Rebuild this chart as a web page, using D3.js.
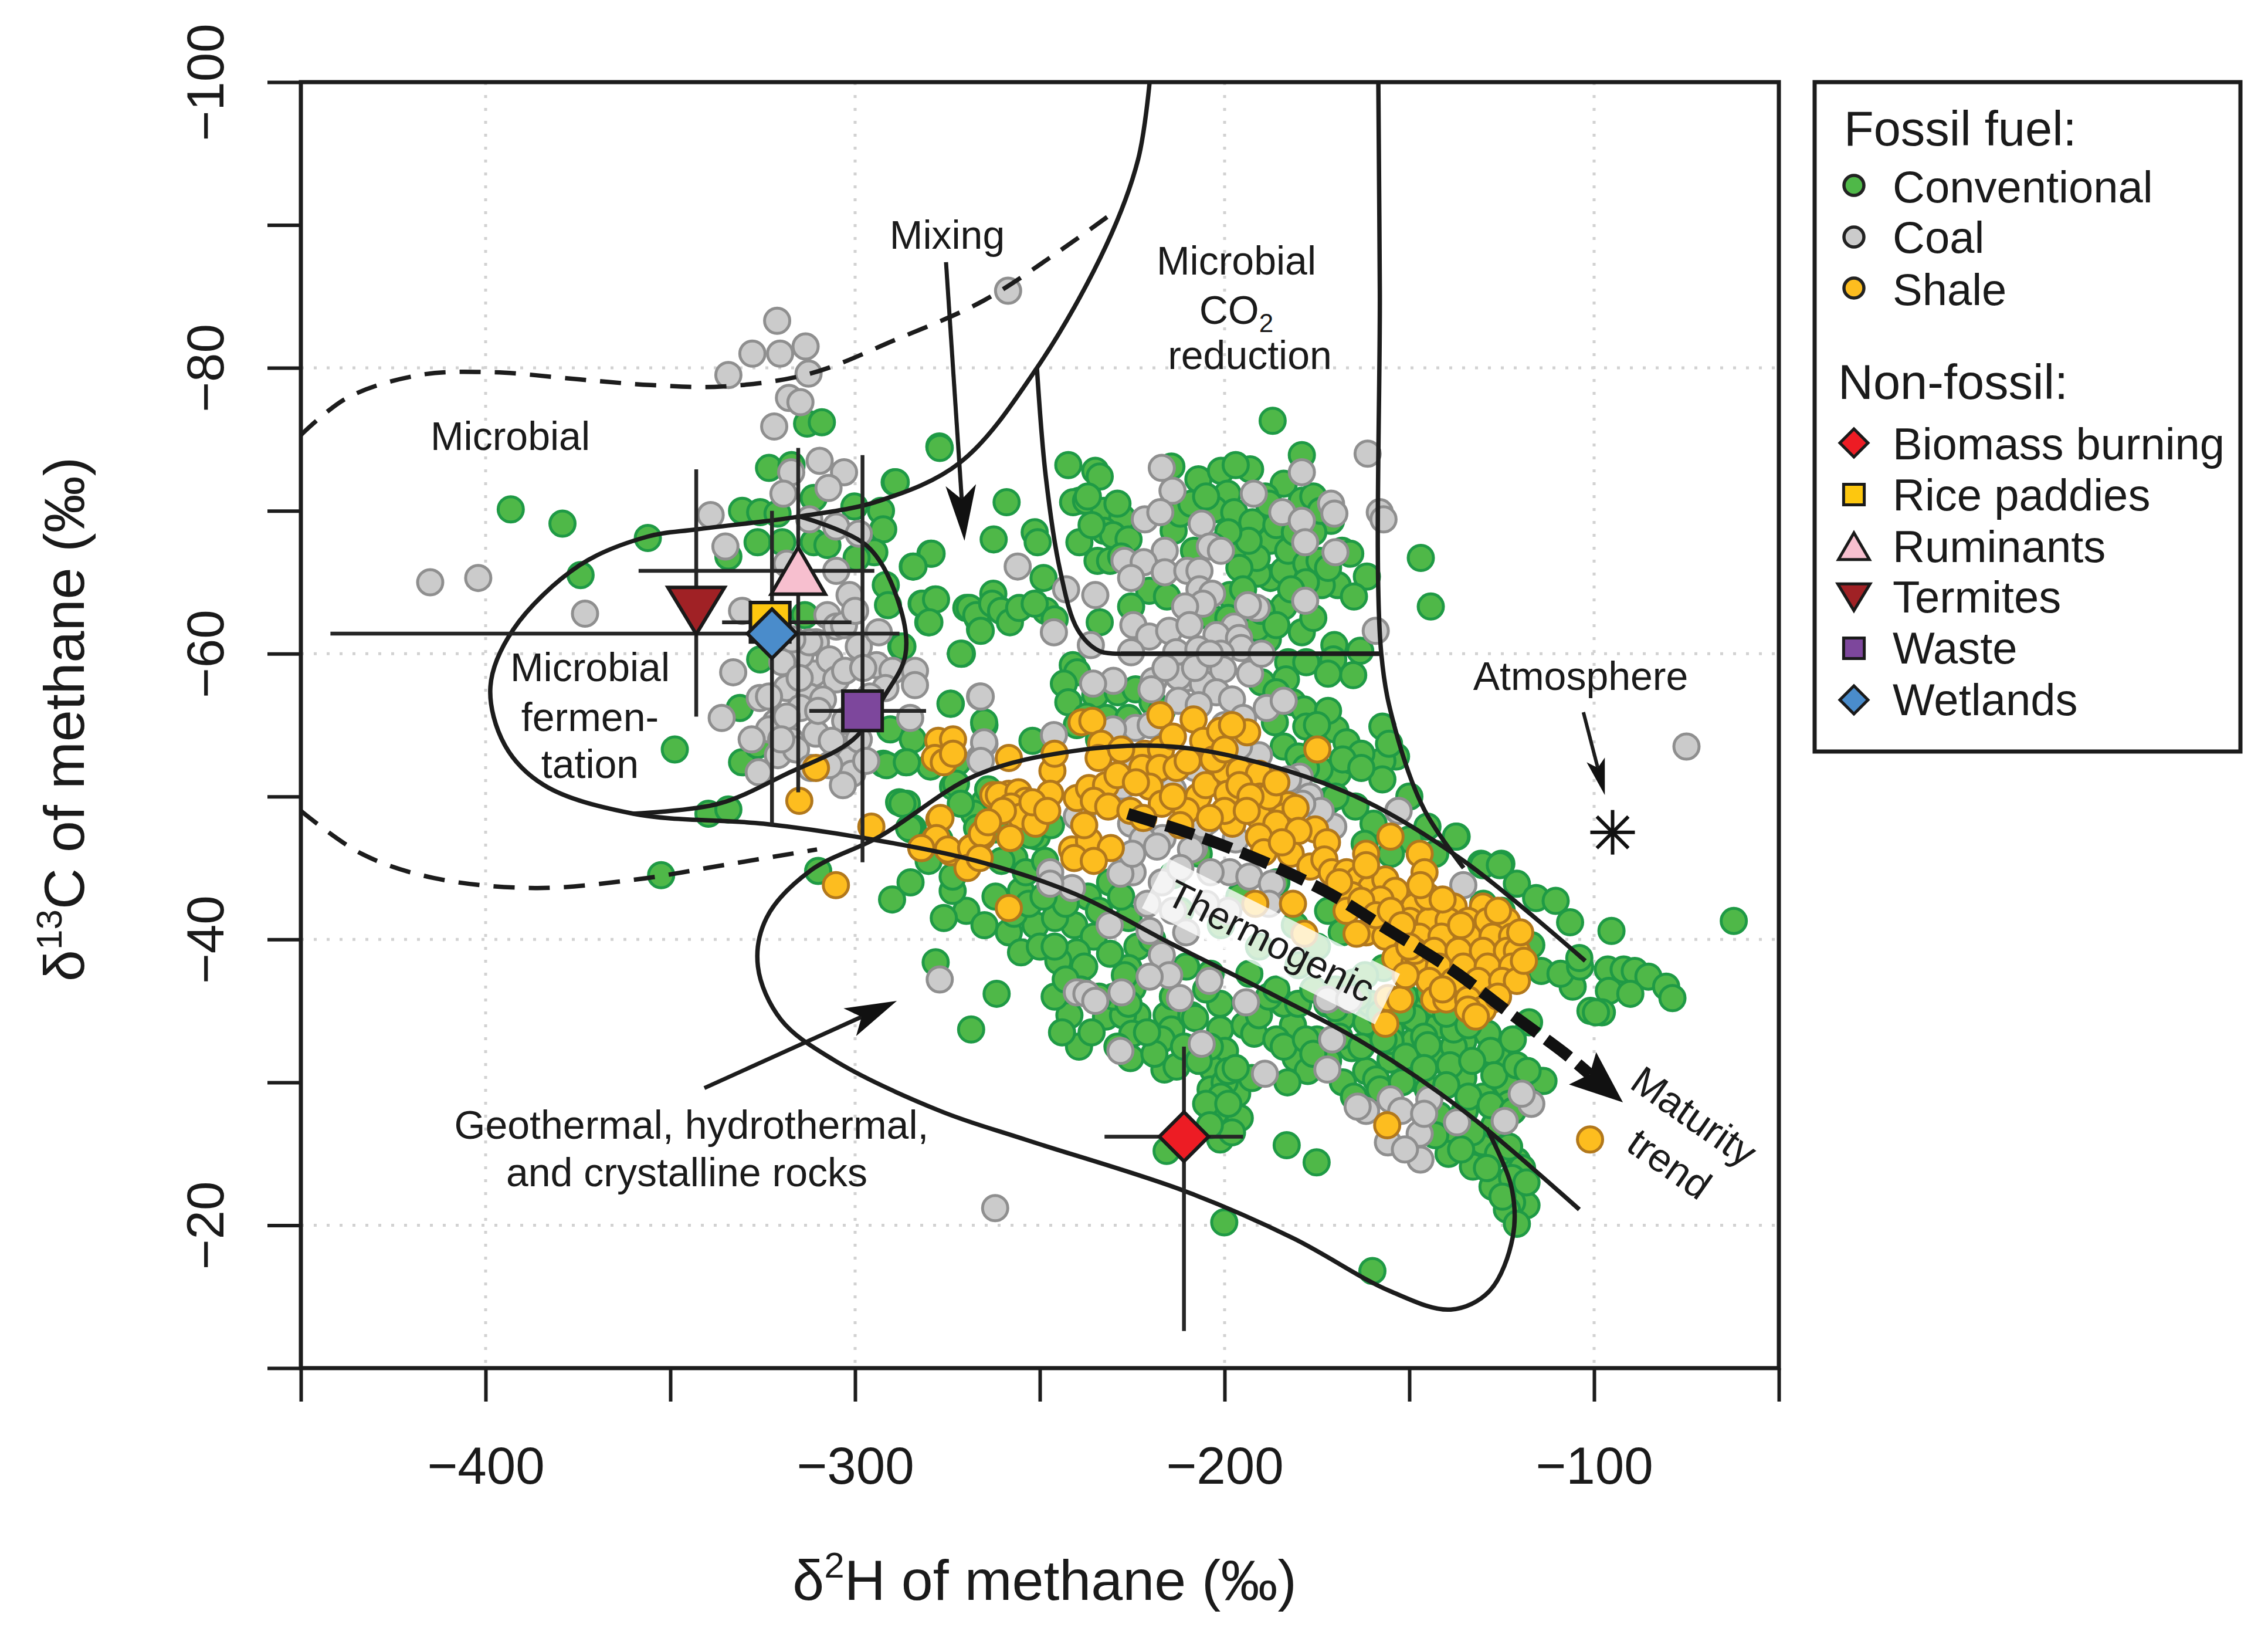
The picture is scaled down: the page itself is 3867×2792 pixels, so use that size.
<!DOCTYPE html>
<html><head><meta charset="utf-8">
<script src="https://cdn.jsdelivr.net/npm/d3@7"></script>
<style>html,body{margin:0;background:#fff}text{font-family:"Liberation Sans",Arial,sans-serif;fill:#1a1a1a}</style>
</head><body><svg id="c" width="3867" height="2792"></svg>
<script>
const xTicks=[-450,-400,-350,-300,-250,-200,-150,-100,-50];
const yTicks=[-100,-90,-80,-70,-60,-50,-40,-30,-20,-10];
const xGrid=[-400,-300,-200,-100];
const yGrid=[-80,-60,-40,-20];
const conventional=[[-393.2,-70.1],[-379.2,-69.1],[-356.1,-68.1],[-374.3,-65.5],[-323.3,-73],[-317.2,-73.2],[-313,-76.1],[-309,-76.2],[-277.2,-74.5],[-289.3,-72],[-311.2,-70.9],[-330.6,-70],[-325.7,-69.9],[-321,-69.8],[-300.2,-70.3],[-293,-70],[-292.4,-68.7],[-326.4,-67.8],[-319.7,-67.8],[-311.2,-67.8],[-307.5,-67.6],[-334.3,-66.8],[-294.8,-67.1],[-299.6,-66.7],[-284.4,-66.1],[-279.6,-67],[-291.7,-64.8],[-291.1,-63.4],[-282,-63.5],[-278.4,-63.8],[-280.2,-62.2],[-269.9,-63.2],[-262.6,-64.2],[-266.9,-62.5],[-266.2,-61.7],[-271.1,-60],[-287.5,-60.5],[-313.6,-62.7],[-274.1,-56.5],[-325.7,-59.6],[-331.2,-56.2],[-348.8,-53.3],[-330.6,-52.4],[-326.4,-53.6],[-292.4,-52.3],[-286.3,-52.4],[-290.5,-54.7],[-284.4,-54],[-339.7,-48.8],[-334.3,-49.1],[-288.1,-49.6],[-286,-49.5],[-352.5,-44.5],[-310,-44.8],[-272.3,-52.4],[-279.6,-52.1],[-265,-55],[-284.4,-47.8],[-277.2,-47],[-273.5,-50.7],[-265,-49.6],[-266.2,-47.8],
[-277.1,-74.4],[-289,-72],[-187,-76.3],[-242.3,-73.2],[-235,-72.8],[-233.8,-72.4],[-179.1,-73.9],[-214.4,-73.1],[-207.1,-72.2],[-201,-72.8],[-193.1,-72.9],[-184,-71.9],[-259,-70.6],[-239.3,-70.7],[-241,-70.6],[-237.5,-70.7],[-232.6,-70],[-227.7,-69.5],[-232.6,-68.6],[-230.2,-68.3],[-239.3,-67.8],[-234.4,-66.5],[-262.5,-68],[-251.4,-68.5],[-250.6,-67.8],[-279.3,-67],[-284.2,-66.1],[-199.2,-71.2],[-202.8,-70.1],[-197.4,-69.9],[-192.5,-69.2],[-213.8,-68.6],[-208.3,-67.2],[-179.1,-70.7],[-187.6,-67.9],[-187.6,-65.3],[-191,-65.6],[-196.1,-67],[-184,-65.8],[-182.8,-67.2],[-177.9,-66.3],[-174.3,-66.5],[-168.2,-67.2],[-169.4,-64.8],[-173.7,-64.8],[-161.5,-65.4],[-171.2,-69.3],[-146.9,-66.7],[-144.2,-63.3],[-191.3,-66.7],[-193.5,-67.9],[-220.4,-64.4],[-215.6,-64],[-225.3,-63.3],[-198.6,-64.1],[-203.4,-62.5],[-184,-63.3],[-179.1,-61.5],[-188.3,-61],[-191.3,-61.8],[-170.3,-60.6],[-170.6,-59.6],[-163.3,-60.2],[-165.2,-58.5],[-182.8,-59.4],[-177.9,-59.4],[-183.4,-58.2],[-233.8,-62.2],[-249,-65.3],[-248.4,-63],[-246,-62.4],
[-269,-63.2],[-267.2,-62.7],[-266,-61.6],[-262.9,-63.5],[-260.5,-63],[-258.1,-62.2],[-255.6,-63.2],[-251.4,-63.5],[-281.8,-63.5],[-278.1,-63.8],[-279.9,-62.2],[-271.4,-60],[-287.2,-60.5],[-274.2,-56.5],[-265.1,-55.2],[-252,-53.9],[-241.1,-59.2],[-239.9,-58.7],[-243.5,-57.9],[-242.3,-56.6],[-235,-57.1],[-228.9,-57.3],[-224.1,-57.5],[-219.5,-56.6],[-237.4,-55.6],[-232,-55.5],[-181.6,-56.6],[-178.5,-56.1],[-177.9,-54.9],[-184,-53.5],[-170,-54.7],[-167,-53.8],[-169.4,-51.6],[-174.3,-51.9],[-186.4,-55.2],[-172,-56],[-175,-53.5],[-180,-52.8],[-165.5,-52.5],[-157.3,-54.9],[-153.6,-52.8],[-157.3,-52.5],[-157.3,-51.2],[-137.2,-47.2],[-130.6,-45.3],[-125.1,-45.3],[-145.1,-47.9],[-159.7,-48.1],[-164.6,-49.3],[-171.9,-49.7],[-162.1,-46.7],[-150,-47],[-155,-46],[-143,-46],[-291.5,-52.2],[-286,-52.4],[-272.7,-50.9],[-287.2,-49.5],[-284.8,-47.7],[-267.8,-48.8],[-256.9,-45.7],[-250.8,-47.2],[-271.4,-49.5],[-264,-50.5],
[-290,-42.8],[-278.2,-38.4],[-261.7,-36.2],[-268.6,-33.7],[-269.9,-42],[-265,-41],[-273.6,-43.4],[-258.4,-40.5],[-251.2,-41],[-255.1,-39.1],[-255.1,-43.4],[-240.7,-41],[-245.9,-41.5],[-235.4,-40.2],[-240,-39.1],[-238,-38.1],[-223.6,-39.5],[-226,-38],[-224.9,-36.6],[-242,-34.7],[-232.1,-34.6],[-223.6,-34.7],[-227.5,-34.7],[-239.4,-32.5],[-225,-33.4],[-225.5,-31.7],[-215.7,-34.7],[-214.4,-33.7],[-209,-34.7],[-201.2,-35.5],[-201.2,-33.7],[-199.9,-32.2],[-216.3,-30.9],[-213,-31.1],[-203.2,-30.9],[-194.6,-34],[-192,-33.4],[-190.7,-34.7],[-181.5,-34],[-180.8,-31.7],[-177.5,-30.8],[-184,-35.5],[-196.6,-29.2],[-202.5,-27.9],[-195.9,-27.5],[-203.8,-29.5],[-200,-30],[-192.6,-30.3],[-215.7,-25.2],[-201.2,-26],[-183.2,-25.6],[-175.1,-24.4],[-200.1,-20.2],[-160,-16.8],
[-168.3,-34.5],[-161.7,-34.2],[-155.1,-33.7],[-148.6,-32.9],[-142,-34],[-135.4,-32.9],[-128.8,-33.4],[-126.2,-31.8],[-161.7,-30.8],[-155.1,-31.6],[-148.6,-30.3],[-142,-31.6],[-135.4,-30.3],[-130.1,-29],[-123.6,-29.8],[-114.3,-30.1],[-165.6,-32.4],[-159,-30.2],[-149,-34.5],[-135.4,-34.2],[-143.3,-35.5],[-148.6,-35.5],[-155.1,-32.9],[-172,-31.5],[-168,-30],[-138,-32.5],[-145,-29.5],[-142,-27.7],[-138,-26.1],[-130.1,-25.8],[-139.4,-25],[-132.8,-24.1],[-120.9,-24.5],[-119.5,-24],[-127.5,-22.7],[-118.3,-21.4],[-122.2,-21.6],[-123.6,-21.1],[-120.9,-20.1],[-122.2,-23.3],[-124.8,-22],[-118.3,-23],[-117.6,-34.2],[-123,-28.5],[-127,-27],[-135,-28],[-133,-26.5],
[-137.4,-47.2],[-130.1,-45.2],[-125.5,-45.2],[-120.9,-43.9],[-115.7,-42.9],[-110.4,-42.7],[-106.5,-41.2],[-117,-39.6],[-114.3,-37.8],[-105.8,-36.7],[-109.1,-37.6],[-103.8,-38.1],[-96.3,-37.9],[-95.3,-40.6],[-96,-36.4],[-92,-37.9],[-97.9,-34.9],[-101,-35],[-113.7,-30.1],[-62.2,-41.3],[-89,-37.8],[-85.3,-37.4],[-80.5,-36.7],[-78.8,-35.9],[-90.2,-36.2],[-99.5,-34.9],[-104,-38.7],[-130,-42.5],[-125,-42],
[-285.4,-47.8],[-280.1,-45.5],[-273.6,-44.4],[-267,-47.8],[-260.4,-45.5],[-253.8,-44.7],[-248.6,-45.5],[-252.5,-47.3],[-210.4,-38.1],[-203.8,-37.6],[-193.3,-37.6],[-188,-36],[-180.1,-35.5],[-172.2,-35.5],[-219.6,-40],[-212,-42],[-201,-41],[-190.7,-39.5],[-180,-38.2],[-170,-36.5],[-165,-37],[-175,-39.5],[-181,-41],[-168.3,-40.5],[-160.5,-35.5],[-151.2,-36],[-144.6,-36.3],[-148.6,-34.5],[-138,-33.7],[-262,-47.7],[-247,-44],[-231,-44],[-214,-44.5],[-196,-43],[-186,-44],[-172,-42],[-157,-38],[-162,-37.5],[-237,-43],[-242,-43.5],[-247,-48],[-226,-41.5],[-207,-46],
[-176,-36.5],[-170,-35.2],[-164,-36],[-158,-34.8],[-152,-35],[-146,-33.2],[-140,-34.8],[-134,-34],[-128,-32.2],[-122,-33],[-175,-33],[-169,-33.2],[-163,-32.5],[-157,-33],[-151,-31.8],[-145,-32.6],[-139,-31.2],[-133,-31.5],[-127,-30.5],[-121,-31.2],[-118,-30.8],[-165,-29],[-158,-29.5],[-152,-30],[-146,-31],[-140,-29.8],[-134,-29],[-128,-28.4],[-122,-28],[-126,-25],[-129,-24],[-123,-25.5],[-136,-25.3],[-143,-26.3],
[-214,-36],[-217,-33],[-211,-32.5],[-219,-32],[-205,-36.5],[-208,-34.5],[-204,-32.5],[-207,-31.5],[-199,-30.8],[-201,-29],[-197,-31],[-205,-28.5],[-199,-28.5],[-198,-26.5],[-204,-27],[-186,-33],[-184,-32.5],[-178,-33],[-176,-32],[-183,-30],[-186,-36.5],[-230,-36],[-236,-33.5],[-234,-36],[-244,-33.5],[-229,-32.5],[-221,-33.5],[-226,-35.5],[-246,-36],[-250,-39.5],[-245,-38.5],[-239,-36.5],[-243,-42.5],[-234,-42],[-228,-43],[-231,-39],[-227,-37.5],[-285,-44],[-276,-41.5],[-262,-43],[-257,-41.8],[-253,-42.5],[-249,-43],[-246,-39.5],[-243,-37.2],
[-199,-68.5],[-196,-66],[-203,-67.5],[-189,-71],[-186,-69],[-181,-68.5],[-176,-68.5],[-172,-66],[-178,-65],[-182,-64.5],[-190,-63],[-195,-64.5],[-186,-62],[-176,-62.5],[-199,-62.5],[-212,-69.8],[-209,-70.5],[-205,-71],[-197,-73.2],[-188,-70.5],[-176,-71],[-174,-70],[-165,-64],[-166,-67],[-237,-71],[-229,-70.5],[-226,-68],[-236,-69],[-231,-66.5],[-228,-66.8],[-240,-55],[-234,-54],[-226,-55.5],[-217,-56],[-190,-58],[-186,-57.3],[-172,-58.6],[-175,-55],[-163,-53],[-170,-50],[-178,-52],[-168,-52.6],[-163,-52],[-150,-50],[-155.5,-53.7]];
const coal=[[-321.1,-83.3],[-327.8,-81],[-320.3,-81],[-313.4,-81.5],[-334.3,-79.5],[-312.6,-79.6],[-317.9,-77.9],[-314.8,-77.6],[-321.9,-75.9],[-309.6,-73.5],[-303,-72.7],[-317.3,-72.7],[-307.2,-71.6],[-319.4,-71.2],[-339.1,-69.7],[-335.1,-67.5],[-415,-65],[-402,-65.3],[-373.1,-62.8],[-330.6,-63],[-312.4,-69.4],[-305.1,-68.9],[-299,-68.4],[-305.1,-65.8],[-318.5,-66.3],[-301.5,-64.1],[-307.5,-62.7],[-310.6,-60.8],[-299,-60.5],[-293.6,-61.5],[-333,-58.7],[-336.1,-55.5],[-325.8,-56.9],[-318.5,-57.6],[-311.2,-58.6],[-314.8,-59.9],[-306.9,-59.6],[-305.1,-58.2],[-312.4,-57],[-321.5,-55.2],[-310.6,-54.4],[-317.3,-53.9],[-302.7,-55.3],[-294.2,-59.2],[-289.9,-58.8],[-283.8,-58.8],[-283.8,-57.8],[-291.8,-57.6],[-285.1,-55.5],[-301.5,-52.6],[-300.8,-51.6],[-303.3,-50.8],[-326.1,-51.7],[-320.9,-52.9],[-266.2,-57],[-265,-53.7],[-266.2,-52.7],[-258.6,-85.4],[-323.3,-57],[-319.7,-59.4],[-314.8,-56.2],[-308.7,-56.8],[-302.7,-58.8],[-297.8,-59],[-312.4,-60.8],[-305.1,-61.9],[-316,-53.3],[-306.3,-53.9],[-323.3,-54.7],[-318.5,-55.6],
[-217,-73],[-161.3,-74],[-179.1,-72.7],[-214.1,-71.4],[-192.1,-71.2],[-171.2,-70.5],[-170.3,-69.8],[-158,-69.9],[-157,-69.4],[-221.6,-69.4],[-217.4,-69.9],[-184.4,-69.9],[-179.1,-69.3],[-206.2,-69.1],[-204,-67.5],[-201,-67.2],[-178.2,-67.8],[-170,-67.1],[-216.2,-67.2],[-227.1,-66.5],[-221.9,-66.4],[-216.2,-65.7],[-225.3,-65.3],[-210.1,-65.8],[-206.8,-65.8],[-206.8,-64.5],[-203.4,-64.2],[-205.9,-63.5],[-210.7,-63.3],[-178.2,-63.7],[-191.3,-63.2],[-193.7,-63.4],[-256,-66.1],[-242.9,-64.5],[-235,-64.1],[-246.2,-61.5],[-224.7,-62],[-220.4,-61.2],[-215,-61.6],[-209.5,-62],[-197.4,-61.9],[-202.2,-61.3],[-196.1,-61.1],[-159.1,-61.6],[-236.2,-60.6],[-225.3,-60.1],[-213.1,-60.1],[-207.1,-60.3],[-195.5,-60.4],[-201,-60],[-230.1,-58.1],[-235.6,-57.9],[-219.2,-58.1],[-210.1,-58.3],[-212.5,-58.4],[-205.9,-57.9],[-200.4,-58.9],[-193.1,-58.6],[-266,-57],[-219.8,-57.5],[-202.2,-57.3],[-198,-56.8],[-212.5,-56.7],[-188.6,-56.2],[-184,-56.7],[-207,-56.4],[-265.1,-53.8],[-266,-52.5],[-246.2,-54.3],[-224.1,-54.8],[-230.2,-54.7],[-190.7,-52.9],[-196.1,-53.5],[-153,-49],[-179.7,-51.4],[-176.5,-48.8],[-170.6,-47.9],[-226.5,-52.1],[-238.6,-48.6],[-227.7,-50.7],[-221.6,-47.4],[-216.8,-47.1],[-208.3,-46.4],[-204.6,-48.3],[-225.3,-48.1],[-177.9,-48.1],
[-247.2,-44.7],[-241.3,-43.6],[-247.2,-43.9],[-240,-48.6],[-224.9,-44.7],[-228.2,-44.6],[-222.2,-47],[-218.3,-46.5],[-209.1,-46.3],[-198.6,-44.7],[-203.8,-44.7],[-193.3,-44.4],[-187.2,-43.9],[-220.9,-42.5],[-210.4,-40.5],[-231.1,-41],[-220.3,-40.6],[-217,-38.9],[-215,-37.5],[-220.3,-37.4],[-204.1,-37.1],[-212.1,-35.9],[-194.2,-35.6],[-240,-36.3],[-237.4,-36.2],[-235,-35.7],[-227.9,-36.3],[-277.1,-37.2],[-228.2,-32.2],[-206.2,-32.7],[-170.9,-33],[-172.2,-30.9],[-189.1,-30.6],[-262.1,-21.2],[-161.7,-28],[-155.1,-28.8],[-152.2,-28],[-144.6,-28.8],[-137.1,-27.2],[-124.2,-27.3],[-117,-28.5],[-119.6,-29.2],[-147.2,-26.4],[-147,-24.6],[-155.8,-25.8],[-151.2,-25.3],[-135.4,-43.8],[-152.9,-49],[-172.2,-35.8],[-166.3,-35.8],[-182.8,-51.2],[-177,-50],[-75,-53.5],[-164,-28.3],[-146,-27.8],
[-199,-42],[-205,-42.5],[-214,-42],[-217,-44],[-225,-46],[-212,-45],[-206,-48],[-197,-47],[-188,-42.5],[-174,-49],[-179,-49.5],[-315,-58.3],[-310,-56],[-320,-54],[-317,-61],[-303,-62],[-300,-63],[-296,-57],[-299,-54],[-297,-52.5],[-307,-52.2],[-312,-52],[-328,-54],[-204,-53],[-208,-52],[-214,-50.5],[-220,-55],[-200,-55],[-195,-55.5],[-216,-59],[-208,-59],[-204,-60],[-190,-60]];
const shale=[[-315.1,-49.7],[-310.6,-52],[-295.6,-47.9],[-277.5,-53.9],[-273.5,-54],[-278.4,-52.7],[-276,-52.4],[-273.5,-53],[-305.2,-43.8],[-277.2,-48.4],[-282,-46.4],[-278.4,-47],[-274.1,-46.1],[-268.7,-46.4],[-265.6,-47.2],[-262.6,-50.1],
[-258.4,-52.7],[-246.6,-51.8],[-247.2,-50.2],[-246,-53],[-258.4,-50.2],[-261.1,-50.1],[-255.8,-50.3],[-253.8,-49.7],[-257.8,-49.3],[-255.1,-48.6],[-251.2,-48.1],[-260,-49],[-240,-49.9],[-236.7,-50.6],[-232.1,-50.8],[-235.4,-49.7],[-231.5,-49.3],[-225.5,-49],
[-238.7,-55.2],[-235.8,-55.3],[-233.4,-53.7],[-234.1,-52.7],[-221.6,-53],[-222.3,-52],[-217.4,-55.7],[-217.2,-53.3],[-217.6,-52],[-208.4,-55.4],[-205.8,-53.9],[-201.2,-54.6],[-193.9,-54.5],[-198,-55],[-213,-52],[-220.3,-50.7],[-217,-49.5],[-209.1,-49.4],[-207.1,-50],[-210.4,-49],[-205.1,-50.8],[-199.9,-51.8],[-195.9,-51.8],[-190.7,-51.6],[-199.2,-50.2],[-197.9,-48.1],[-190.4,-50],[-190.7,-48.6],[-184.7,-49.4],[-182.8,-49.4],[-188,-50],[-184,-48.6],[-186,-48.1],[-180.8,-49.2],[-190.7,-47.2],
[-276.9,-48.5],[-278,-47.1],[-282.1,-46.4],[-274.9,-46.3],[-268.6,-46.4],[-265.7,-47.4],[-269.6,-45],[-266.3,-45.7],[-258,-47.1],[-241.3,-46.3],[-236.7,-46.9],[-230.8,-46.4],[-240.7,-45.7],[-235.4,-45.5],[-258.4,-42.2],
[-191.7,-42.5],[-181.5,-42.5],[-178.4,-40.4],[-155.8,-35.9],[-152.5,-35.8],[-156.5,-34.1],[-174.9,-53.3],[-189.4,-46.1],[-182.1,-46],[-176.8,-45.1],[-175.5,-47.7],[-172.3,-46.8],[-173,-45.6],[-171,-44.7],[-155.1,-47.2],[-147.2,-46],[-145.9,-44.7],[-161.7,-46],
[-167,-44.7],[-163.7,-44.2],[-160.4,-43.6],[-156.5,-44.2],[-161.7,-45.2],[-153.8,-43.4],[-165.6,-43.1],[-157.8,-42.8],[-167,-42],[-161.7,-40.5],[-164.3,-40.4],[-156.5,-40.2],[-153.8,-38.7],[-148.6,-38.4],
[-148.6,-42.3],[-143.3,-42.3],[-138,-42.3],[-130.1,-42.3],[-149.9,-41.3],[-144.6,-41.3],[-139.4,-41.3],[-134.1,-41.3],[-128.8,-41.3],[-123.6,-41.3],[-147.3,-40.2],[-141.3,-40.2],[-134.1,-40.2],[-127.5,-40.2],[-122.2,-40.2],[-148.6,-39.2],[-143.3,-39.2],[-136.7,-39.2],[-130.1,-39.2],[-123.6,-39.2],[-120.9,-39.2],[-142,-38.1],[-135.4,-38.1],[-128.8,-38.1],[-122.2,-38.1],[-144.6,-37.1],[-138,-37.1],[-131.4,-37.1],[-124.9,-37.1],[-120.9,-37.1],[-143.3,-35.8],[-140,-35.8],[-134.1,-35.8],[-127.5,-35.8],[-130.1,-35.1],[-134.1,-35.1],
[-156,-27],[-101.1,-26],
[-228,-53.3],[-229,-51.5],[-224,-51],[-214,-54.2],[-210,-52.5],[-203,-52.6],[-200,-53.3],[-196,-50.8],[-193,-50],[-186,-51],[-180,-47.6],[-184.5,-46.8],[-200,-49],[-194,-49],[-204,-48.5],[-212,-48],[-214,-50],[-222,-48.5],[-238,-48],[-264,-48.2],[-252,-49.6],[-248,-49],[-169,-44],[-163,-42.7],[-159,-41.7],[-155,-42],[-152,-41],[-150,-39.5],[-151,-37.5],[-145,-43],[-147,-43.8],[-141,-42.8],[-136,-41],[-126,-42],[-120,-40.5],[-119,-38.5],[-141,-36.5],[-126,-36],[-132,-34.6]];
const sourceNames=["Biomass burning","Rice paddies","Ruminants","Termites","Waste","Wetlands"];
const sourceX=[-211,-323,-315.4,-343,-298,-322.5];
const sourceY=[-26.2,-62.2,-65.8,-63,-56,-61.4];
const sourceXLow=[-232.5,-336,-358.6,-343,-312.4,-442];
const sourceXHigh=[-195,-301,-294.8,-343,-280.8,-288];
const sourceYLow=[-32.5,-62.2,-74.4,-72.9,-73.9,-70];
const sourceYHigh=[-12.6,-62.2,-50.3,-55.6,-45.4,-48];
const outerCurve=[[-220.3,-100],[-223.4,-94.6],[-232,-88.6],[-250.8,-80],[-271.5,-73.4],[-293.4,-70.7],[-315,-69.6],[-342.8,-68.7],[-356.1,-68.2],[-374.5,-66.2],[-392.5,-61.7],[-398.7,-57.7],[-394.8,-53.6],[-384.2,-50.8],[-360,-48.8],[-324.8,-48.1],[-297.7,-47.1],[-267.2,-45.5],[-240.6,-43.2],[-214.4,-39.7],[-188.2,-36.3],[-162,-32.7],[-135.3,-28],[-104,-21.1]];
const innerCurve=[[-315,-69.6],[-296.6,-67.5],[-288,-63.4],[-286.4,-59.9],[-291.9,-57.1],[-300.5,-54],[-318.5,-51.6],[-336.9,-49.5],[-360,-48.8]];
const thermoCurve=[[-102.4,-38.5],[-135.3,-45.5],[-162,-49.7],[-188.2,-52.2],[-214.4,-53.5],[-240.6,-53.2],[-267.2,-51.5],[-293.4,-47.2],[-312.2,-44.8],[-324,-41.5],[-326.3,-38.1],[-320.1,-34.4],[-306,-31.6],[-277,-28],[-254,-26],[-210.9,-22.4],[-181.5,-19.1],[-155.3,-15.4],[-138.8,-14.1],[-128.3,-15.4],[-122,-19.2],[-122.4,-22.7],[-129.1,-26.8]];
const co2Left=[[-250.8,-80],[-248.4,-72.4],[-244.5,-65.8],[-239.8,-61.7],[-234,-60.2],[-228.1,-60]];
const co2Base=[[-228.1,-60],[-157.6,-60]];
const co2Right=[[-158.4,-100],[-158,-85.5],[-157.6,-60],[-153.7,-54.6],[-146,-49.1],[-135.3,-45]];
const dashUpper=[[-450,-75.3],[-437.5,-77.9],[-417.9,-79.5],[-398.4,-79.7],[-374.9,-79.2],[-355.3,-78.8],[-335.7,-78.7],[-312.2,-79.6],[-288.8,-82],[-265.3,-84.7],[-245.7,-88],[-230,-90.9]];
const dashLower=[[-450,-49],[-433.6,-46],[-414,-44.3],[-386.6,-43.6],[-359.2,-44.2],[-335.7,-45.2],[-310.3,-46.3]];
const atmosphere=[-95,-47.5];
const arrowMixing=[[-275.4,-87.4],[-270.4,-67.9]];
const arrowAtmos=[[-102.9,-55.9],[-97.1,-50.1]];
const arrowGeo=[[-340.8,-29.6],[-288.7,-35.7]];
const arrowTrend=[[-226.2,-48.8],[-209.1,-47.4],[-190,-45.5],[-172.2,-43.3],[-156.5,-40.8],[-138,-37.8],[-123.6,-35],[-107.8,-32],[-92.2,-28.6]];

const x=d3.scaleLinear().domain([-450,-50]).range([513,3033]);
const y=d3.scaleLinear().domain([-100,-10]).range([140,2332]);
const svg=d3.select("#c");
const INK="#1c1c1c";
const fmt=v=>"\u2212"+Math.abs(v);

const grid=svg.append("g").attr("stroke","#d2d2d2").attr("stroke-width",5).attr("stroke-dasharray","5 17");
grid.selectAll("line.v").data(xGrid).join("line").attr("class","v").attr("x1",x).attr("x2",x).attr("y1",y(-100)).attr("y2",y(-10));
grid.selectAll("line.h").data(yGrid).join("line").attr("class","h").attr("x1",x(-450)).attr("x2",x(-50)).attr("y1",y).attr("y2",y);

function pts(data,fill,stroke){
  svg.append("g").selectAll("circle").data(data).join("circle")
    .attr("cx",d=>x(d[0])).attr("cy",d=>y(d[1])).attr("r",21.5)
    .attr("fill",fill).attr("stroke",stroke).attr("stroke-width",5);
}
const C={green:["#4fb848","#1f9a45"],gray:["#cbcbcb","#8f8f8f"],orange:["#fdbd1f","#b2781c"]};
pts(conventional,...C.green);
pts(coal,...C.gray);
pts(shale,...C.orange);

const ln=d3.line().x(d=>x(d[0])).y(d=>y(d[1])).curve(d3.curveCatmullRom.alpha(0.5));
const curves=svg.append("g").attr("fill","none").attr("stroke",INK).attr("stroke-width",7.5);
[outerCurve,innerCurve,thermoCurve,co2Left,co2Right].forEach(c=>curves.append("path").attr("d",ln(c)));
curves.append("path").attr("d",d3.line().x(d=>x(d[0])).y(d=>y(d[1]))(co2Base)).attr("stroke-width",8);
[dashUpper,dashLower].forEach(c=>curves.append("path").attr("d",ln(c)).attr("stroke-dasharray","36 24"));

function head(a,len,w,notch){
  const n=a.length,x0=x(a[n-2][0]),y0=y(a[n-2][1]),x1=x(a[n-1][0]),y1=y(a[n-1][1]);
  const L=Math.hypot(x1-x0,y1-y0),ux=(x1-x0)/L,uy=(y1-y0)/L,px=-uy,py=ux;
  const bx=x1-ux*len,by=y1-uy*len,nx=x1-ux*(len-notch),ny=y1-uy*(len-notch);
  return {pts:[[x1,y1],[bx+px*w/2,by+py*w/2],[nx,ny],[bx-px*w/2,by-py*w/2]],sx:nx,sy:ny};
}
function arrow(a,len,w,notch,sw,dash){
  const h=head(a,len,w,notch);
  const d=a.slice(0,-1).map(p=>[x(p[0]),y(p[1])]);d.push([h.sx,h.sy]);
  svg.append("path").attr("d",d3.line().curve(d3.curveCatmullRom.alpha(0.5))(d)).attr("fill","none").attr("stroke",dash?"#111":INK).attr("stroke-width",sw).attr("stroke-dasharray",dash||null);
  svg.append("polygon").attr("points",h.pts.map(p=>p.join(",")).join(" ")).attr("fill","#111");
}
arrow(arrowMixing,95,52,24,7);
arrow(arrowAtmos,62,32,14,6);
arrow(arrowGeo,88,52,22,7);

const th=svg.append("g").attr("transform","translate(2167,1604) rotate(26.5)");
th.append("rect").attr("x",-222).attr("y",-48).attr("width",444).attr("height",96).attr("fill","#fff").attr("fill-opacity",0.78);
th.append("text").attr("text-anchor","middle").attr("y",23).attr("font-size",66).text("Thermogenic");

arrow(arrowTrend,90,72,16,20,"50 18");

const bars=svg.append("g").attr("stroke","#262626").attr("stroke-width",6.5);
sourceNames.forEach((n,i)=>{
  bars.append("line").attr("x1",x(sourceX[i])).attr("x2",x(sourceX[i])).attr("y1",y(sourceYLow[i])).attr("y2",y(sourceYHigh[i]));
  bars.append("line").attr("x1",x(sourceXLow[i])).attr("x2",x(sourceXHigh[i])).attr("y1",y(sourceY[i])).attr("y2",y(sourceY[i]));
});
const sty={
 "Biomass burning":{f:"#ed1c24",t:"diamond"},"Rice paddies":{f:"#fdc70f",t:"square"},"Ruminants":{f:"#f7bfcf",t:"up"},
 "Termites":{f:"#a02125",t:"down"},"Waste":{f:"#7d479c",t:"square"},"Wetlands":{f:"#4a8ccb",t:"diamond"}};
function shape(g,t,cx,cy,s,fill,sw){
  let p;
  if(t==="diamond") p=[[0,-s],[s,0],[0,s],[-s,0]];
  if(t==="square") p=[[-s*.8,-s*.8],[s*.8,-s*.8],[s*.8,s*.8],[-s*.8,s*.8]];
  if(t==="up") p=[[0,-s*.95],[s*1.1,s*.95],[-s*1.1,s*.95]];
  if(t==="down") p=[[0,s*.95],[s*1.15,-s*.95],[-s*1.15,-s*.95]];
  g.append("polygon").attr("points",p.map(q=>[cx+q[0],cy+q[1]].join(",")).join(" ")).attr("fill",fill).attr("stroke","#1a1a1a").attr("stroke-width",sw).attr("stroke-linejoin","miter");
}
const markers=svg.append("g");
sourceNames.forEach((n,i)=>shape(markers,sty[n].t,x(sourceX[i]),y(sourceY[i]),42,sty[n].f,6));

const star=svg.append("g").attr("stroke","#111").attr("stroke-width",6).attr("transform",`translate(${x(atmosphere[0])},${y(atmosphere[1])})`);
[0,45,90,135].forEach(a=>star.append("line").attr("x1",-38).attr("x2",38).attr("transform",`rotate(${a})`));

function t(s,px,py,fs=68,a="middle"){return svg.append("text").attr("x",px).attr("y",py).attr("font-size",fs).attr("text-anchor",a).text(s);}
t("Mixing",1615,424);
t("Microbial",2108,468);
const co=t("CO",2108,552);co.append("tspan").attr("font-size",44).attr("dy",14).text("2");
t("reduction",2131,629);
t("Atmosphere",2695,1176);
t("Microbial",870,767);
t("Microbial",1006,1161);t("fermen-",1006,1246);t("tation",1006,1326);
t("Geothermal, hydrothermal,",1179,1941);
t("and crystalline rocks",1171,2022);
svg.append("text").attr("transform","translate(2875,1922) rotate(35)").attr("text-anchor","middle").attr("font-size",68).text("Maturity");
svg.append("text").attr("transform","translate(2833,2003) rotate(35)").attr("text-anchor","middle").attr("font-size",68).text("trend");

svg.append("rect").attr("x",513).attr("y",140).attr("width",2520).attr("height",2192).attr("fill","none").attr("stroke",INK).attr("stroke-width",7);
const ax=svg.append("g").attr("transform","translate(0,2332)").call(d3.axisBottom(x).tickValues(xTicks).tickSize(57).tickPadding(95).tickFormat(v=>xGrid.includes(v)?fmt(v):""));
const ay=svg.append("g").attr("transform","translate(513,0)").call(d3.axisLeft(y).tickValues(yTicks).tickSize(57).tickPadding(75).tickFormat(v=>(v%20===0&&v!==-10)?fmt(v):""));
[ax,ay].forEach(g=>{g.select(".domain").remove();g.selectAll("line").attr("stroke",INK).attr("stroke-width",6);g.selectAll("text").attr("font-size",89).attr("font-family",'"Liberation Sans"').attr("fill","#1a1a1a");});
ax.selectAll("text").attr("dy",0).attr("y",197);
ay.selectAll(".tick text").attr("text-anchor","middle").attr("dy",0).attr("x",0).attr("y",0).attr("transform","translate(-132,0) rotate(-90)");
const xt=svg.append("text").attr("x",1781).attr("y",2727).attr("text-anchor","middle").attr("font-size",97);
xt.append("tspan").text("\u03b4");xt.append("tspan").attr("font-size",62).attr("dy",-38).text("2");xt.append("tspan").attr("dy",38).text("H of methane (\u2030)");
const yt=svg.append("text").attr("transform","translate(143,1226) rotate(-90)").attr("text-anchor","middle").attr("font-size",97);
yt.append("tspan").text("\u03b4");yt.append("tspan").attr("font-size",62).attr("dy",-38).text("13");yt.append("tspan").attr("dy",38).text("C of methane (\u2030)");

svg.append("rect").attr("x",3094).attr("y",140).attr("width",726).attr("height",1141).attr("fill","#fff").attr("stroke",INK).attr("stroke-width",7);
const L=svg.append("g");
const fossilNames=["Conventional","Coal","Shale"];
const fossilKeys=["green","gray","orange"];
const LF=76;
L.append("text").attr("x",3144).attr("y",248).attr("font-size",83).text("Fossil fuel:");
L.append("text").attr("x",3134).attr("y",680).attr("font-size",83).text("Non-fossil:");
const fy=[345,431,520],fc=[316,404,491];
fossilNames.forEach((n,i)=>{
  L.append("circle").attr("cx",3161).attr("cy",fc[i]).attr("r",17).attr("fill",C[fossilKeys[i]][0]).attr("stroke","#222").attr("stroke-width",5.5);
  L.append("text").attr("x",3227).attr("y",fy[i]).attr("font-size",LF).text(n);
});
const ny=[783,870,958,1044,1131,1219],nc=[755,843,931,1018,1105,1193];
sourceNames.forEach((n,i)=>{
  shape(L,sty[n].t,3161,nc[i],sty[n].t==="square"?22:24,sty[n].f,5);
  L.append("text").attr("x",3227).attr("y",ny[i]).attr("font-size",LF).text(n);
});
</script></body></html>
